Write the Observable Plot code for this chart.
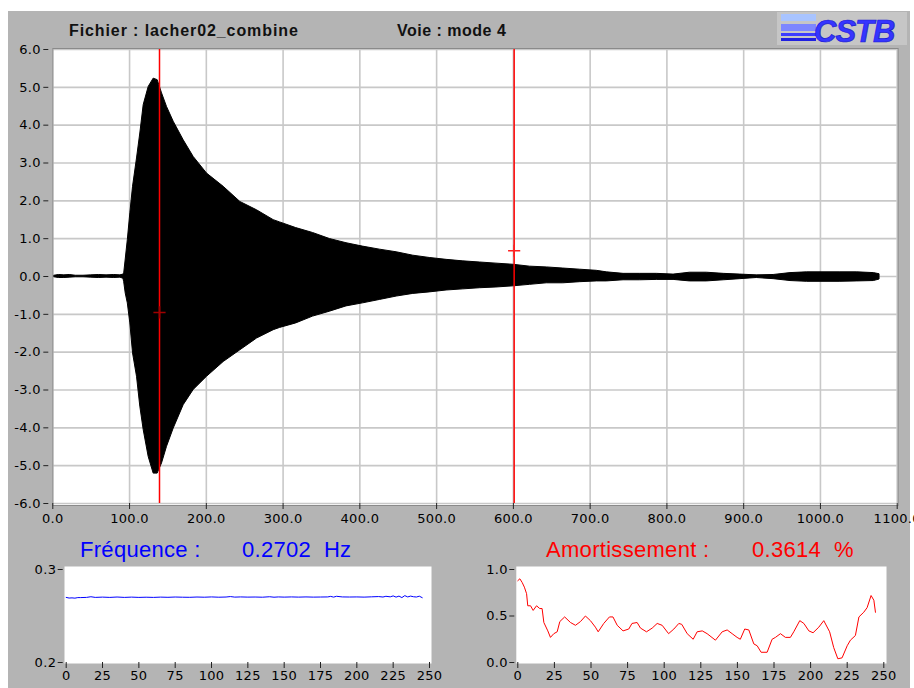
<!DOCTYPE html>
<html><head><meta charset="utf-8">
<script src="https://cdn.jsdelivr.net/npm/d3@7"></script>
<script src="https://cdn.jsdelivr.net/npm/@observablehq/plot@0.6"></script>
<style>
body{margin:0;background:#fff;width:914px;height:688px;overflow:hidden;position:relative;font-family:"Liberation Sans",Arial,sans-serif}
#panel{position:absolute;left:8px;top:11px;width:902px;height:677px;background:#b4b4b4}
.abs{position:absolute;white-space:nowrap;line-height:1}
.title{font-size:16px;font-weight:bold;color:#111;letter-spacing:0.9px}
.big{font-size:22px;letter-spacing:0.3px}
#logo{position:absolute;left:777px;top:12px;width:130px;height:33px;background:#c6c6c6}
.bar{position:absolute;left:4px;width:35px}
#cstb{position:absolute;left:37px;top:2px;font:italic bold 31px "Liberation Sans",Arial,sans-serif;color:#3535ff;letter-spacing:-1px;-webkit-text-stroke:0.7px #1a1ad0}
#main,#small1,#small2{position:absolute}
#main{left:0;top:0}
#small1{left:0;top:540px}
#small2{left:460px;top:540px}
</style></head><body>
<div id="panel"></div>
<div id="logo">
  <div class="bar" style="top:2px;height:7px;background:#a9c4ff"></div>
  <div class="bar" style="top:12px;height:7px;background:#7d86ff"></div>
  <div class="bar" style="top:21px;height:3px;background:#3c3cff"></div>
  <div class="bar" style="top:26px;height:3px;background:#2020e0"></div>
  <div id="cstb">CSTB</div>
</div>
<div class="abs title" style="left:69px;top:23px">Fichier : lacher02_combine</div>
<div class="abs title" style="left:397px;top:23px;letter-spacing:0.5px">Voie : mode 4</div>
<div class="abs big" style="left:80px;top:539px;color:#0000ff">Fréquence :</div>
<div class="abs big" style="left:242px;top:539px;color:#0000ff">0.2702&nbsp; Hz</div>
<div class="abs big" style="left:546px;top:539px;color:#ff0000">Amortissement :</div>
<div class="abs big" style="left:752px;top:539px;color:#ff0000">0.3614&nbsp; %</div>
<div id="main"></div>
<div id="small1"></div>
<div id="small2"></div>
<script>
// ---- Main signal envelope (time s, upper, lower) ----
const envTime = [2,8,15,22,30,40,50,60,70,80,88,92,93,95,97.7,101,104.5,109.7,114,118.4,124.9,131.4,136.6,142.3,148.8,157.5,170.5,183.5,200.9,222.6,244.3,266,287.7,296,317,339,361,382.6,404,426,448,469.6,491,513,534.8,556.5,578,600,621.7,643.5,665,687,708.7,721.7,743.5,765,787,808.7,830,852,874,895.7,917,939,961,982.6,1004,1026,1048,1069.6,1077];
const envHigh = [0.02,0.04,0.03,0.04,0.02,0.02,0.03,0.04,0.03,0.04,0.03,0.05,0.08,0.45,0.96,1.67,2.37,3.12,3.78,4.53,5.01,5.23,5.19,4.84,4.48,4.09,3.6,3.16,2.72,2.37,1.97,1.75,1.49,1.43,1.28,1.15,0.99,0.88,0.79,0.71,0.64,0.55,0.49,0.44,0.40,0.37,0.34,0.31,0.26,0.24,0.21,0.18,0.15,0.11,0.07,0.07,0.07,0.05,0.1,0.1,0.07,0.05,0.03,0.04,0.09,0.11,0.11,0.11,0.11,0.09,0.06];
const envLow  = [-0.02,-0.04,-0.04,-0.03,-0.02,-0.02,-0.03,-0.04,-0.03,-0.04,-0.03,-0.06,-0.15,-0.45,-0.71,-1.24,-2.03,-2.65,-3.44,-4.06,-4.77,-5.21,-5.21,-4.94,-4.5,-4.02,-3.4,-3.0,-2.65,-2.26,-1.95,-1.64,-1.42,-1.36,-1.24,-1.06,-0.93,-0.79,-0.71,-0.62,-0.53,-0.46,-0.42,-0.37,-0.34,-0.31,-0.29,-0.26,-0.22,-0.18,-0.18,-0.15,-0.13,-0.13,-0.1,-0.1,-0.09,-0.09,-0.13,-0.13,-0.1,-0.07,-0.04,-0.07,-0.12,-0.14,-0.14,-0.14,-0.13,-0.12,-0.08];

// Cursors
const cursorTime = [139, 601];
const cursorValue = [-0.95, 0.68];
const cursorMarkColor = ["#a00000", "#ff2020"];

// Axis ticks
const mainXTicks = [0,100,200,300,400,500,600,700,800,900,1000,1100];
const mainYTicks = [-6,-5,-4,-3,-2,-1,0,1,2,3,4,5,6];
const cycleTicks = [0,25,50,75,100,125,150,175,200,225,250];
const freqTicks = [0.2, 0.3];
const dampTicks = [0, 0.5, 1.0];

// ---- Frequency per cycle (Hz) ----
const freqCycle = [0,2,4,6,8,10,14,17,20,25,30,35,40,45,50,55,60,65,70,75,80,85,90,95,100,105,110,113,116,120,125,130,135,140,143,146,150,155,160,165,170,175,180,182,184,186,190,195,200,205,210,215,218,220,223,225,227,229,231,233,235,237,239,241,243,245];
const freqValue = [0.2700,0.2693,0.2695,0.2692,0.2698,0.2698,0.2700,0.2707,0.2700,0.2703,0.2700,0.2704,0.2700,0.2703,0.2700,0.2702,0.2700,0.2703,0.2701,0.2704,0.2702,0.2701,0.2704,0.2702,0.2705,0.2702,0.2704,0.2709,0.2703,0.2705,0.2703,0.2704,0.2702,0.2707,0.2702,0.2705,0.2703,0.2705,0.2703,0.2705,0.2703,0.2704,0.2705,0.2711,0.2703,0.2712,0.2705,0.2704,0.2705,0.2703,0.2706,0.2709,0.2704,0.2712,0.2706,0.2716,0.2703,0.2714,0.2698,0.2719,0.2705,0.2714,0.2707,0.2704,0.2713,0.2697];

// ---- Damping per cycle (%) ----
const dampCycle = [0,1.4,3,4.5,6,6.8,8.7,10.5,12.8,15,16.6,17.8,20.5,22.3,24.6,26.9,28.7,32,36,39.4,42.8,46.2,49.6,53,54.9,58.7,62.6,65,67.9,71.9,75.8,78,81.5,83.8,87.9,91.8,95.2,98.6,103,106.6,110,112,115.7,119.8,122.5,126,129.3,135,139.6,143,146.4,149.8,152,155,157.8,161.2,163.5,166.2,170.3,173.7,176,179.4,182.8,186.2,188.5,192.6,195.4,198.8,201.7,205.6,209,213,215.8,218.6,221.5,225,227.2,230.6,233,236.3,238.6,241.3,243.2,244.3];
const dampValue = [0.88,0.90,0.86,0.81,0.74,0.61,0.61,0.56,0.61,0.58,0.58,0.43,0.34,0.27,0.31,0.33,0.44,0.49,0.43,0.40,0.44,0.50,0.45,0.38,0.33,0.42,0.49,0.49,0.40,0.34,0.36,0.42,0.43,0.37,0.33,0.37,0.42,0.40,0.31,0.36,0.42,0.41,0.31,0.25,0.33,0.34,0.31,0.24,0.33,0.35,0.31,0.27,0.25,0.36,0.35,0.20,0.18,0.11,0.11,0.25,0.27,0.31,0.27,0.27,0.33,0.45,0.42,0.34,0.32,0.38,0.45,0.33,0.16,0.04,0.05,0.18,0.24,0.29,0.49,0.54,0.59,0.72,0.67,0.54];

const env = envTime.map((t,i)=>({t, hi: envHigh[i], lo: envLow[i]}));
const cursors = cursorTime.map((t,i)=>({t, v: cursorValue[i], c: cursorMarkColor[i]}));
const freq = freqCycle.map((c,i)=>({c, v: freqValue[i]}));
const damp = dampCycle.map((c,i)=>({c, v: dampValue[i]}));
const f1 = d => d.toFixed(1);
const axisStyle = {background:"transparent", fontFamily:"'DejaVu Sans', sans-serif", fontSize:"13px", color:"#000", letterSpacing:"0.3px"};

const H = 532;
const main = Plot.plot({
  width: 914, height: H,
  marginLeft: 52.3, marginRight: 914 - 896.7, marginTop: 49, marginBottom: H - 503,
  style: axisStyle,
  x: {domain: [0, 1100]},
  y: {domain: [-6, 6]},
  marks: [
    Plot.frame({fill: "white", insetTop: -1, insetBottom: -2, insetRight: -1}),
    Plot.gridX(mainXTicks, {stroke: "#c8c8c8", strokeOpacity: 1, strokeWidth: 1.6}),
    Plot.gridY(mainYTicks, {stroke: "#c8c8c8", strokeOpacity: 1, strokeWidth: 1.6}),
    Plot.areaY(env, {x: "t", y1: "lo", y2: "hi", fill: "#000", stroke: "#000", strokeWidth: 1, curve: "linear"}),
    Plot.ruleX(cursors, {x: "t", stroke: "#ff0000", strokeWidth: 1.5}),
    Plot.dot(cursors, {x: "t", y: "v", symbol: "plus", r: 4, stroke: "c", strokeWidth: 1.5}),
    Plot.frame({stroke: "#8a8a8a", insetTop: -1, insetBottom: -2, insetRight: -1}),
    Plot.axisX(mainXTicks, {tickSize: 6, tickPadding: 4, tickFormat: f1, label: null, stroke: "#222"}),
    Plot.axisY(mainYTicks, {tickSize: 5, dx: -4, tickPadding: 3, tickFormat: f1, label: null, stroke: "#222"})
  ]
});
document.getElementById("main").append(main);

const SH = 148;
const small1 = Plot.plot({
  width: 460, height: SH,
  marginLeft: 65.7, marginRight: 31, marginTop: 29, marginBottom: SH - 122,
  style: axisStyle,
  x: {domain: [0, 250]},
  y: {domain: [0.2, 0.3]},
  marks: [
    Plot.frame({fill: "white", insetLeft: -1.7, insetRight: -2, insetTop: -3, insetBottom: -1}),
    Plot.line(freq, {x: "c", y: "v", stroke: "#0000ff", strokeWidth: 1}),
    Plot.axisX(cycleTicks, {tickSize: 6, tickPadding: 2, label: null, stroke: "#222"}),
    Plot.axisY(freqTicks, {tickSize: 5, dx: -3, tickPadding: 2, tickFormat: f1, label: null, stroke: "#222"})
  ]
});
document.getElementById("small1").append(small1);

const small2 = Plot.plot({
  width: 454, height: SH,
  marginLeft: 57.3, marginRight: 454 - 423.3, marginTop: 29, marginBottom: SH - 122,
  style: axisStyle,
  x: {domain: [0, 250]},
  y: {domain: [0, 1.0]},
  marks: [
    Plot.frame({fill: "white", insetLeft: -1.5, insetRight: -2.7, insetTop: -3, insetBottom: -1}),
    Plot.line(damp, {x: "c", y: "v", stroke: "#ff0000", strokeWidth: 1}),
    Plot.axisX(cycleTicks, {tickSize: 6, tickPadding: 2, label: null, stroke: "#222"}),
    Plot.axisY(dampTicks, {tickSize: 5, dx: -3, tickPadding: 2, tickFormat: f1, label: null, stroke: "#222"})
  ]
});
document.getElementById("small2").append(small2);
</script>
</body></html>
